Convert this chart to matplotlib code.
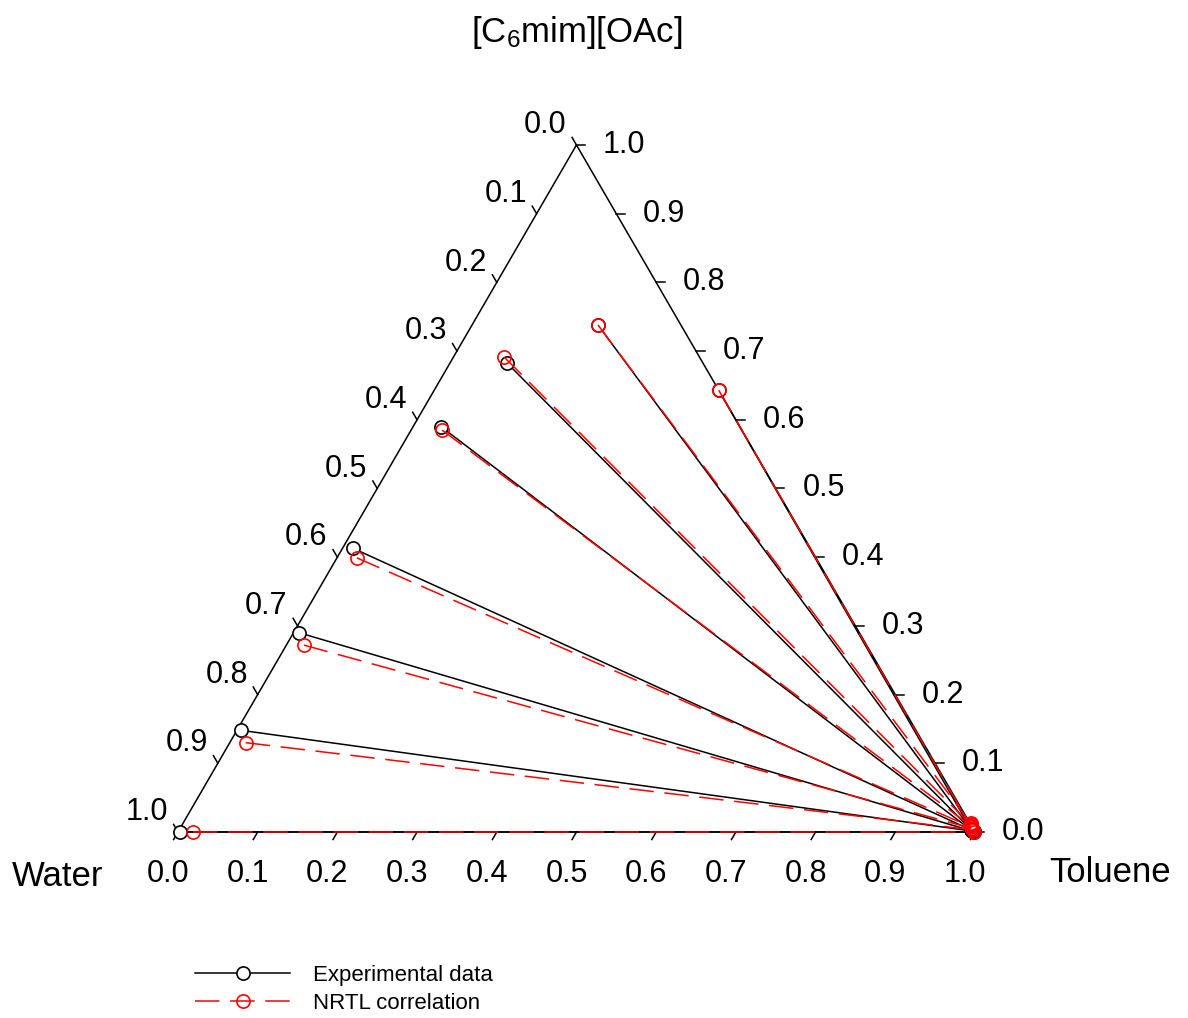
import numpy as np
import matplotlib
matplotlib.use("Agg")
from matplotlib import pyplot as plt

plt.rcParams["font.family"] = ["Liberation Sans", "DejaVu Sans"]
plt.rcParams["mathtext.fontset"] = "custom"
plt.rcParams["mathtext.rm"] = "Liberation Sans"
plt.rcParams["mathtext.it"] = "Liberation Sans:italic"

# tie lines, mole fractions (toluene, IL); water = 1 - toluene - IL
# water-rich phase (left end) and toluene-rich phase (right end)
exp_left_tol = [0.003, 0.005, 0.007, 0.013, 0.035, 0.071, 0.158, 0.357]
exp_left_il = [0.000, 0.148, 0.290, 0.413, 0.590, 0.683, 0.738, 0.643]
exp_right_tol = [0.999, 0.998, 0.997, 0.996, 0.995, 0.994, 0.993, 0.992]
exp_right_il = [0.000, 0.001, 0.001, 0.002, 0.002, 0.003, 0.004, 0.005]

nrtl_left_tol = [0.019, 0.020, 0.022, 0.025, 0.039, 0.064, 0.158, 0.357]
nrtl_left_il = [0.000, 0.130, 0.272, 0.399, 0.585, 0.691, 0.738, 0.643]
nrtl_right_tol = [0.999, 0.996, 0.994, 0.992, 0.990, 0.989, 0.988, 0.989]
nrtl_right_il = [0.000, 0.003, 0.005, 0.007, 0.009, 0.011, 0.013, 0.010]

tick_vals = np.round(np.arange(0, 1.01, 0.1), 1)

S = np.sqrt(3) / 2


def to_xy(tol, il):
    tol = np.asarray(tol)
    il = np.asarray(il)
    return tol + il / 2, il * S


fig = plt.figure(figsize=(11.88, 10.18), dpi=100)
ax = fig.add_axes([0, 0, 1, 1])
ax.set_xlim(-0.2233, 1.2673)
ax.set_ylim(-0.2345, 1.0488)
ax.axis("off")

# triangle
ax.plot([0, 1, 0.5, 0], [0, 0, S, 0], color="black", lw=1.1, zorder=1)

L = 0.011
fs_tick = 22
for v in tick_vals:
    lab = f"{v:.1f}"
    # bottom: toluene
    ax.plot([v, v - 0.5 * L], [0, -S * L], color="black", lw=1.1)
    ax.text(v - 0.0125, -0.053, lab, fontsize=fs_tick, ha="center", va="center")
    # right: IL
    x, y = 1 - v / 2, v * S
    ax.plot([x, x + L], [y, y], color="black", lw=1.1)
    ax.text(x + 0.06, y, lab, fontsize=fs_tick, ha="center", va="center")
    # left: water
    x, y = (1 - v) / 2, (1 - v) * S
    ax.plot([x, x - 0.5 * L], [y, y + S * L], color="black", lw=1.1)
    ax.text(x - 0.039, y + 0.025, lab, fontsize=fs_tick, ha="center", va="center")

ax.text(0.5, 1.008, r"[C$_\mathregular{6}$mim][OAc]", fontsize=25, ha="center", va="center")
ax.text(-0.1506, -0.0565, "Water", fontsize=25, ha="center", va="center")
ax.text(1.1694, -0.0514, "Toluene", fontsize=25, ha="center", va="center")

# experimental tie lines
for i in range(len(exp_left_tol)):
    xs, ys = to_xy([exp_left_tol[i], exp_right_tol[i]], [exp_left_il[i], exp_right_il[i]])
    ax.plot(xs, ys, color="black", lw=1.1, marker="o", ms=9.5, mfc="white",
            mec="black", mew=1.2, zorder=3, label="Experimental data" if i == 0 else None)

# NRTL tie lines
for i in range(len(nrtl_left_tol)):
    xs, ys = to_xy([nrtl_left_tol[i], nrtl_right_tol[i]], [nrtl_left_il[i], nrtl_right_il[i]])
    ax.plot(xs, ys, color="red", lw=1.1, dashes=(16, 7), marker="o", ms=9.5, mfc="none",
            mec="red", mew=1.2, zorder=4, label="NRTL correlation" if i == 0 else None)

fig.legend(loc="upper left", bbox_to_anchor=(0.164, 0.052), frameon=False, fontsize=16,
           handlelength=4.3, handletextpad=1.0, labelspacing=0.3, borderpad=0, borderaxespad=0)

fig.savefig("out.png", dpi=100)
